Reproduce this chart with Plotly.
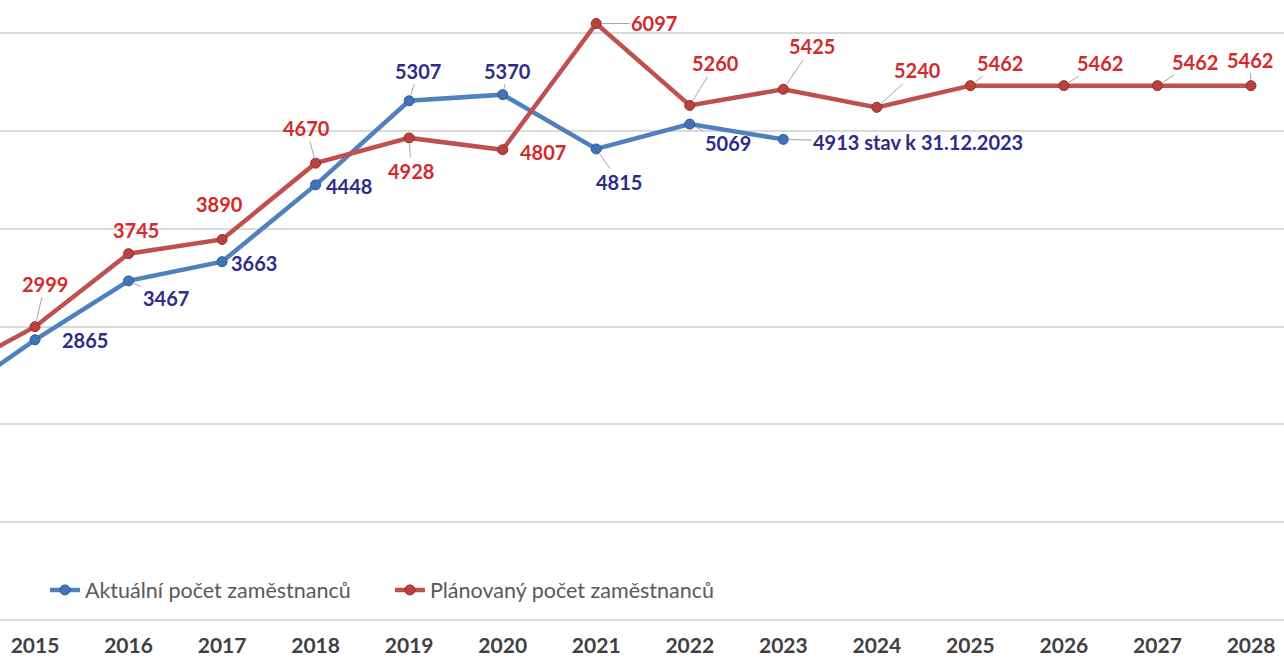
import plotly.graph_objects as go

# ---- data ----
tick_years = [2015, 2016, 2017, 2018, 2019, 2020, 2021, 2022, 2023, 2024, 2025, 2026, 2027, 2028]

# 2014 values only visible as line stubs at the left edge (estimated)
actual_years = [2014, 2015, 2016, 2017, 2018, 2019, 2020, 2021, 2022, 2023]
actual_values = [2200, 2865, 3467, 3663, 4448, 5307, 5370, 4815, 5069, 4913]

planned_years = [2014, 2015, 2016, 2017, 2018, 2019, 2020, 2021, 2022, 2023, 2024, 2025, 2026, 2027, 2028]
planned_values = [2480, 2999, 3745, 3890, 4670, 4928, 4807, 6097, 5260, 5425, 5240, 5462, 5462, 5462, 5462]

actual_name = "Aktuální počet zaměstnanců"
planned_name = "Plánovaný počet zaměstnanců"
last_actual_suffix = " stav k 31.12.2023"

# ---- label placement (pixel offsets of label centre from point, leader line flag) ----
actual_label_pos = {
    2015: (50, 0, False), 2016: (37, 17, True), 2017: (32, 1, False), 2018: (33, 1, False),
    2019: (9, -30, True), 2020: (5, -24, True), 2021: (23, 33, True), 2022: (38, 19, True),
    2023: (135, 3, True),
}
planned_label_pos = {
    2015: (10, -43, True), 2016: (7, -24, False), 2017: (-3, -35, False), 2018: (-9, -35, True),
    2019: (2, 33, True), 2020: (40, 2, False), 2021: (58, 0, True), 2022: (26, -42, True),
    2023: (29, -43, True), 2024: (41, -37, True), 2025: (30, -23, True), 2026: (36, -23, True),
    2027: (38, -24, True), 2028: (-1, -26, True),
}

BLUE = "#4F81BD"
RED = "#C0504D"
BLUE_TXT = "#2E2B8A"
RED_TXT = "#D42A2A"
FONT = "Lato"

fig = go.Figure()
fig.add_trace(go.Scatter(
    x=actual_years, y=actual_values, name=actual_name, mode="lines+markers",
    line=dict(color=BLUE, width=4.5),
    marker=dict(size=10, color="#3F75B8", line=dict(color="#2D5C94", width=1)),
))
fig.add_trace(go.Scatter(
    x=planned_years, y=planned_values, name=planned_name, mode="lines+markers",
    line=dict(color=RED, width=4.5),
    marker=dict(size=10, color="#B9413E", line=dict(color="#8E2F2D", width=1)),
))

annotations = []
def add_labels(xs, ys, pos, color, suffix_last=None):
    for i, (x, y) in enumerate(zip(xs, ys)):
        if x not in pos:
            continue
        ax, ay, leader = pos[x]
        text = str(y)
        if suffix_last and i == len(xs) - 1:
            text += suffix_last
        annotations.append(dict(
            x=x, y=y, xref="x", yref="y", text=text, ax=ax, ay=ay,
            showarrow=True, arrowhead=0, standoff=6,
            arrowwidth=1 if leader else 0.1,
            arrowcolor="#A6A6A6" if leader else "rgba(0,0,0,0)",
            font=dict(family=FONT, size=20, color=color, weight="bold"),
        ))

add_labels(actual_years, actual_values, actual_label_pos, BLUE_TXT, last_actual_suffix)
add_labels(planned_years, planned_values, planned_label_pos, RED_TXT)

fig.update_layout(
    width=1284, height=663,
    margin=dict(l=0, r=0, t=0, b=42),
    paper_bgcolor="white", plot_bgcolor="white",
    showlegend=True,
    legend=dict(
        orientation="h", x=0.035, y=0.05, xanchor="left", yanchor="middle",
        font=dict(family=FONT, size=21.5, color="#595959"),
        bgcolor="rgba(0,0,0,0)", itemwidth=30, entrywidth=300,
    ),
    annotations=annotations,
    xaxis=dict(
        range=[2015 - 35 / 93.5, 2028 + 33 / 93.5],
        tickvals=tick_years, ticktext=[str(y) for y in tick_years],
        showgrid=False, zeroline=False, showline=False, ticks="",
        ticklabelstandoff=10, automargin=False,
        tickfont=dict(family=FONT, size=21, color="#404040", weight="bold"),
    ),
    yaxis=dict(
        range=[-8, 6337], dtick=1000, showticklabels=False, automargin=False,
        showgrid=True, gridcolor="#DADADA", gridwidth=1.5,
        zeroline=True, zerolinecolor="#DADADA", zerolinewidth=1.5, showline=False,
    ),
)

fig.write_html("out.html", config={"displayModeBar": False},
               post_script="document.body.style.margin='0';")
